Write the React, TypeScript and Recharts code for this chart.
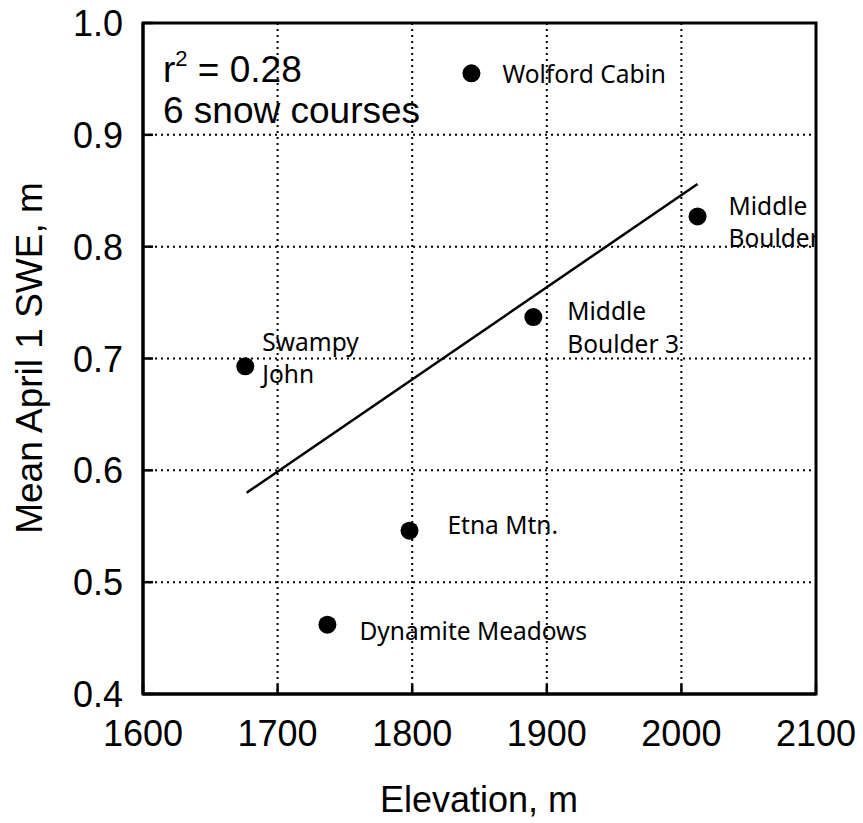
import React from "react";
import {
  ScatterChart,
  Scatter,
  XAxis,
  YAxis,
  CartesianGrid,
  ReferenceArea,
  Customized,
} from "recharts";

// ---- data ----
const siteNames = [
  "Wolford Cabin",
  "Middle Boulder",
  "Middle Boulder 3",
  "Swampy John",
  "Etna Mtn.",
  "Dynamite Meadows",
];
const elevations = [1844, 2012, 1890, 1676, 1798, 1737];
const meanSwe = [0.955, 0.827, 0.737, 0.693, 0.546, 0.462];

const trendElevation = [1677, 2012];
const trendSwe = [0.58, 0.856];

const xTicks = [1600, 1700, 1800, 1900, 2000, 2100];
const yTicks = [0.4, 0.5, 0.6, 0.7, 0.8, 0.9, 1.0];

// ---- label layout (style, not data) ----
const labelLayout: Record<string, { dx: number; lines: string[]; dys: number[] }> = {
  "Wolford Cabin": { dx: 31, lines: ["Wolford Cabin"], dys: [10] },
  "Middle Boulder": { dx: 31, lines: ["Middle", "Boulder"], dys: [-1, 31] },
  "Middle Boulder 3": { dx: 34, lines: ["Middle", "Boulder 3"], dys: [3, 36] },
  "Swampy John": { dx: 17, lines: ["Swampy", "John"], dys: [-15, 17] },
  "Etna Mtn.": { dx: 38, lines: ["Etna Mtn."], dys: [3] },
  "Dynamite Meadows": { dx: 32, lines: ["Dynamite Meadows"], dys: [15] },
};

const points = siteNames.map((name, i) => ({ name, x: elevations[i], y: meanSwe[i] }));
const trend = trendElevation.map((x, i) => ({ x, y: trendSwe[i] }));

const AXIS_FONT = "'Liberation Sans', Arial, sans-serif";
const LABEL_FONT = "'Noto Sans', 'Open Sans', sans-serif";

const PointShape = (props: any) => {
  const { cx, cy, payload } = props;
  const lay = labelLayout[payload.name];
  return (
    <g>
      <circle cx={cx} cy={cy} r={9} fill="#000" />
      {lay.lines.map((t, i) => (
        <text
          key={i}
          x={cx + lay.dx}
          y={cy + lay.dys[i]}
          fontFamily={LABEL_FONT}
          fontSize={24.5}
          fill="#000"
        >
          {t}
        </text>
      ))}
    </g>
  );
};

const XTick = (props: any) => {
  const { x, y, payload } = props;
  return (
    <g>
      <line x1={x} y1={y} x2={x} y2={y - 10} stroke="#000" strokeWidth={2.5} />
      <text x={x} y={y + 52} textAnchor="middle" fontFamily={AXIS_FONT} fontSize={36} fill="#000">
        {payload.value}
      </text>
    </g>
  );
};

const YTick = (props: any) => {
  const { x, y, payload } = props;
  return (
    <g>
      <line x1={x} y1={y} x2={x + 10} y2={y} stroke="#000" strokeWidth={2.5} />
      <text
        x={x - 20}
        y={y + 13}
        textAnchor="end"
        fontFamily={AXIS_FONT}
        fontSize={36}
        fill="#000"
      >
        {Number(payload.value).toFixed(1)}
      </text>
    </g>
  );
};

const Annotations = () => (
  <g fontFamily={AXIS_FONT} fill="#000">
    <text x={163} y={82} fontSize={37}>
      r
      <tspan dy={-16} fontSize={22}>
        2
      </tspan>
      <tspan dy={16} fontSize={37}>
        {" = 0.28"}
      </tspan>
    </text>
    <text x={163} y={123} fontSize={37}>
      6 snow courses
    </text>
    <text x={479} y={812} fontSize={36} textAnchor="middle">
      Elevation, m
    </text>
    <text x={42} y={358} fontSize={37} textAnchor="middle" transform="rotate(-90, 42, 358)">
      Mean April 1 SWE, m
    </text>
  </g>
);

export default function App() {
  return (
    <div style={{ position: "absolute", left: 0, top: 0, background: "#fff" }}>
      <ScatterChart
        width={863}
        height={823}
        margin={{ top: 23, right: 47, bottom: 0, left: 0 }}
      >
        <CartesianGrid
          stroke="#000"
          strokeWidth={2}
          strokeDasharray="2 4"
          horizontalValues={yTicks}
          verticalValues={xTicks}
        />
        <XAxis
          dataKey="x"
          type="number"
          domain={[1600, 2100]}
          ticks={xTicks}
          height={129}
          tickSize={0}
          tickMargin={0}
          tick={<XTick />}
          axisLine={{ stroke: "#000", strokeWidth: 3 }}
          allowDataOverflow
        />
        <YAxis
          dataKey="y"
          type="number"
          domain={[0.4, 1.0]}
          ticks={yTicks}
          width={143}
          tickSize={0}
          tickMargin={0}
          tick={<YTick />}
          axisLine={{ stroke: "#000", strokeWidth: 3 }}
          allowDataOverflow
        />
        <ReferenceArea
          x1={1600}
          x2={2100}
          y1={0.4}
          y2={1.0}
          fill="none"
          fillOpacity={0}
          stroke="#000"
          strokeWidth={3}
          ifOverflow="visible"
        />
        <Scatter
          data={trend}
          line={{ stroke: "#000", strokeWidth: 2.5 }}
          shape={() => <g />}
          isAnimationActive={false}
        />
        <Scatter data={points} shape={<PointShape />} isAnimationActive={false} />
        <Customized component={<Annotations />} />
      </ScatterChart>
    </div>
  );
}
